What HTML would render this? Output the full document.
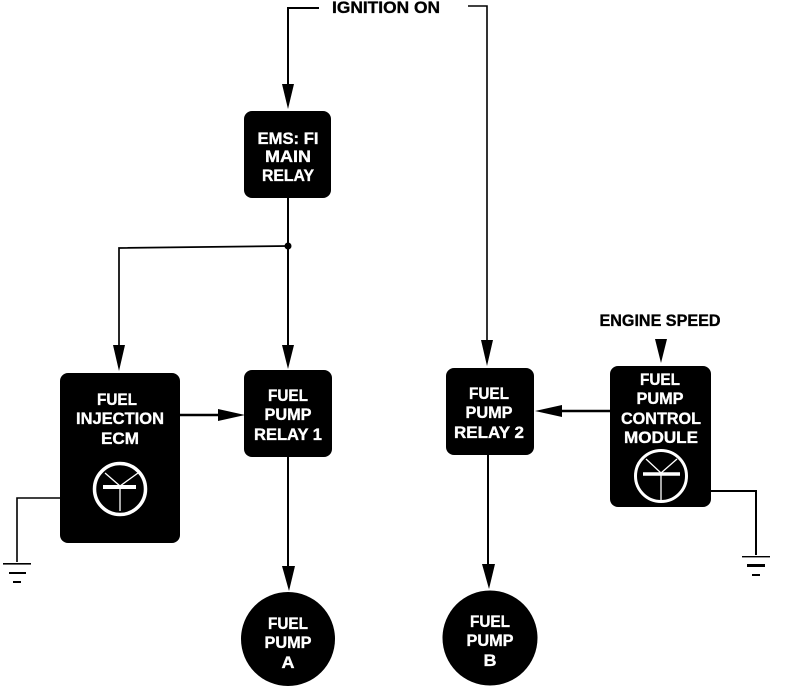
<!DOCTYPE html>
<html><head><meta charset="utf-8">
<style>
html,body{margin:0;padding:0;background:#fff}
svg{display:block}
text{font-family:"Liberation Sans",sans-serif;font-weight:bold;font-size:16.5px;text-anchor:middle;stroke-width:.35px}
.w{fill:#fff;stroke:#fff}
.b{fill:#000;stroke:#000}
g.b{stroke:none}
</style></head>
<body>
<svg width="800" height="686" viewBox="0 0 800 686" xmlns="http://www.w3.org/2000/svg">
<g fill="none" stroke="#000" stroke-width="2">
<path d="M319 8H288V90"/>
<path d="M288 198V350"/>
<path d="M119 350V248L288 246" stroke-width="1.7"/>
<path d="M288 456V570"/>
<path d="M488 454V568"/>
<path d="M179 415H220" stroke-width="2.4"/>
<path d="M610 411H560" stroke-width="2.4"/>
<path d="M60 498H17V562" stroke-width="1.6"/>
<path d="M710 491H756V555" stroke-width="2"/>
<path d="M468 6H487V345" stroke-width="1.6"/>
</g>
<g class="b">
<circle cx="288" cy="246" r="3.5"/>
<path d="M282 84H294L288 109Z"/>
<path d="M113 345H125L119 371Z"/>
<path d="M282 345H294L288 369Z"/>
<path d="M481 340H493L487 366Z"/>
<path d="M655 339H667L661 363Z"/>
<path d="M218 409L245 415L218 421Z"/>
<path d="M562 405L535 411L562 417Z"/>
<path d="M282 566H295L289 591Z"/>
<path d="M482 564H495L489 589Z"/>
<rect x="244" y="111" width="87" height="87" rx="8"/>
<rect x="60" y="373" width="120" height="170" rx="8"/>
<rect x="244" y="370" width="88" height="87" rx="8"/>
<rect x="446" y="368" width="88" height="87" rx="8"/>
<rect x="610" y="366" width="101" height="141" rx="8"/>
<circle cx="288" cy="639" r="47"/>
<circle cx="490" cy="638" r="47.5"/>
<rect x="3" y="563" width="28" height="1.6"/>
<rect x="9" y="572" width="17" height="2"/>
<rect x="13" y="581" width="8" height="2"/>
<rect x="742" y="556" width="28" height="1.4"/>
<rect x="747" y="564" width="18" height="3"/>
<rect x="752" y="574" width="8" height="2"/>
</g>
<g fill="none" stroke="#fff">
<circle cx="120" cy="489" r="25.5" stroke-width="3.5"/>
<path d="M105 473L120 486L138 473M120 486V511" stroke-width="1.3"/>
<path d="M103 487H136" stroke-width="4"/>
<circle cx="661" cy="476" r="25.5" stroke-width="3"/>
<path d="M646 459L661 473L677 459M661 473V500" stroke-width="1.3"/>
<path d="M643 474H680" stroke-width="3.5"/>
</g>
<text class="b" x="386" y="13" textLength="108" lengthAdjust="spacingAndGlyphs">IGNITION ON</text>
<text class="b" x="660" y="326" textLength="121" lengthAdjust="spacingAndGlyphs">ENGINE SPEED</text>
<text class="w" x="288" y="144" textLength="61" lengthAdjust="spacingAndGlyphs">EMS: FI</text>
<text class="w" x="288" y="162" textLength="46" lengthAdjust="spacingAndGlyphs">MAIN</text>
<text class="w" x="288" y="181" textLength="52" lengthAdjust="spacingAndGlyphs">RELAY</text>
<text class="w" x="117" y="405" textLength="40" lengthAdjust="spacingAndGlyphs">FUEL</text>
<text class="w" x="120" y="424" textLength="88" lengthAdjust="spacingAndGlyphs">INJECTION</text>
<text class="w" x="120" y="444" textLength="38" lengthAdjust="spacingAndGlyphs">ECM</text>
<text class="w" x="288" y="401" textLength="40" lengthAdjust="spacingAndGlyphs">FUEL</text>
<text class="w" x="288" y="420" textLength="47" lengthAdjust="spacingAndGlyphs">PUMP</text>
<text class="w" x="288" y="440" textLength="68" lengthAdjust="spacingAndGlyphs">RELAY 1</text>
<text class="w" x="489" y="399" textLength="40" lengthAdjust="spacingAndGlyphs">FUEL</text>
<text class="w" x="489" y="418" textLength="47" lengthAdjust="spacingAndGlyphs">PUMP</text>
<text class="w" x="489" y="438" textLength="70" lengthAdjust="spacingAndGlyphs">RELAY 2</text>
<text class="w" x="660" y="385" textLength="40" lengthAdjust="spacingAndGlyphs">FUEL</text>
<text class="w" x="660" y="404" textLength="47" lengthAdjust="spacingAndGlyphs">PUMP</text>
<text class="w" x="661" y="424" textLength="80" lengthAdjust="spacingAndGlyphs">CONTROL</text>
<text class="w" x="661" y="443" textLength="74" lengthAdjust="spacingAndGlyphs">MODULE</text>
<text class="w" x="288" y="629" textLength="40" lengthAdjust="spacingAndGlyphs">FUEL</text>
<text class="w" x="288" y="648" textLength="47" lengthAdjust="spacingAndGlyphs">PUMP</text>
<text class="w" x="288" y="668" textLength="13" lengthAdjust="spacingAndGlyphs">A</text>
<text class="w" x="490" y="627" textLength="40" lengthAdjust="spacingAndGlyphs">FUEL</text>
<text class="w" x="490" y="646" textLength="47" lengthAdjust="spacingAndGlyphs">PUMP</text>
<text class="w" x="490" y="666" textLength="13" lengthAdjust="spacingAndGlyphs">B</text>
</svg>
</body></html>
